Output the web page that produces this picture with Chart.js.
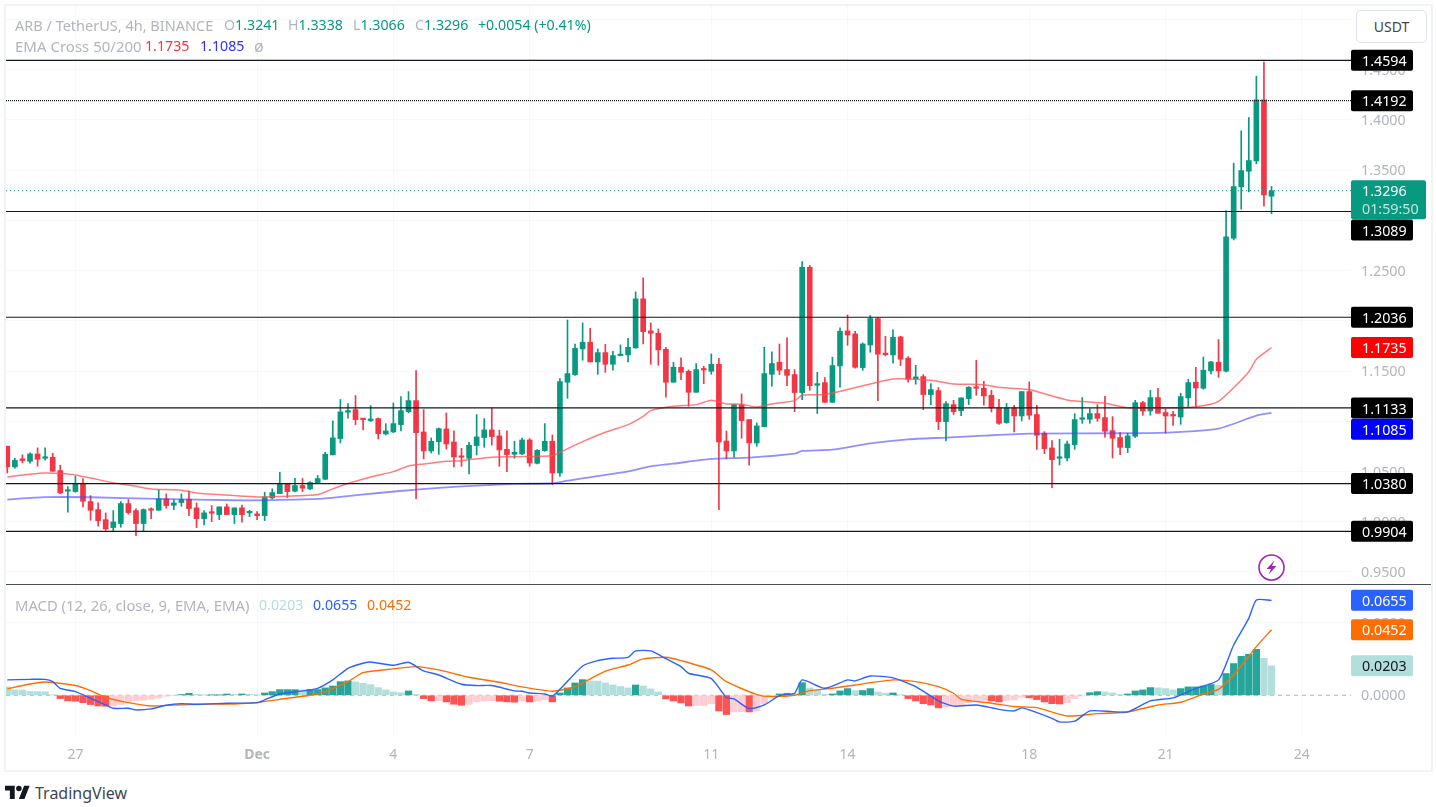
<!DOCTYPE html>
<html>
<head>
<meta charset="utf-8">
<title>ARB / TetherUS</title>
<script src="https://cdn.jsdelivr.net/npm/chart.js@4/dist/chart.umd.js"></script>
<style>
  html, body { margin: 0; padding: 0; background: #fff; width: 1436px; height: 807px; overflow: hidden; }
  body { font-family: "Noto Sans", sans-serif; position: relative; }
  canvas { position: absolute; }
  #frame { position: absolute; left: 4px; top: 4px; width: 1425px; height: 764px; border: 2px solid #f0f3fa; }
  #separator { position: absolute; left: 6px; top: 584px; width: 1425px; height: 1px; background: #4a4e58; }
  .t { position: absolute; font-size: 14.2px; line-height: 18px; white-space: nowrap; color: #b2b5be; }
  .up { color: #089981; }
  #usdt { position: absolute; left: 1356px; top: 10px; width: 69px; height: 31px; border: 1px solid #e0e3eb; border-radius: 5px;
          background: #fff; color: #434651; font-size: 14px; line-height: 31px; text-align: center; }
  #bolt { position: absolute; left: 1257px; top: 553px; }
  #logo { position: absolute; left: 5px; top: 785px; }
  #brand { position: absolute; left: 35px; top: 782px; font-size: 16px; line-height: 22px; color: #434651; }
</style>
</head>
<body>
<div id="frame"></div>
<canvas id="price-chart" width="1420" height="579" style="left:6px;top:5px"></canvas>
<canvas id="macd-chart" width="1420" height="185" style="left:6px;top:585px"></canvas>
<div id="separator"></div>

<div class="t" style="left:15px;top:16px;font-size:14.5px">ARB / TetherUS, 4h, BINANCE</div>
<div class="t" style="left:224px;top:16px">O<span class="up">1.3241</span></div>
<div class="t" style="left:288px;top:16px">H<span class="up">1.3338</span></div>
<div class="t" style="left:353px;top:16px">L<span class="up">1.3066</span></div>
<div class="t" style="left:415px;top:16px">C<span class="up">1.3296</span></div>
<div class="t up" style="left:478px;top:16px">+0.0054 (+0.41%)</div>
<div class="t" style="left:15px;top:37px;font-size:15px">EMA Cross 50/200</div>
<div class="t" style="left:145px;top:37px;color:#f23645">1.1735</div>
<div class="t" style="left:200px;top:37px;color:#3030ff">1.1085</div>
<div class="t" style="left:254px;top:37px;font-size:16px">ø</div>
<div class="t" style="left:15px;top:596px;font-size:14.8px">MACD (12, 26, close, 9, EMA, EMA)</div>
<div class="t" style="left:259px;top:596px;color:#b2dfdb">0.0203</div>
<div class="t" style="left:313px;top:596px;color:#2962ff">0.0655</div>
<div class="t" style="left:367px;top:596px;color:#ff6d00">0.0452</div>

<div id="usdt">USDT</div>
<svg id="bolt" width="29" height="29" viewBox="0 0 29 29">
  <circle cx="14.5" cy="14.5" r="12.5" fill="#fff" stroke="#9c27b0" stroke-width="1.6"/>
  <path d="M17.5 7.5 L9.5 16 H14 L11.5 21.5 L19.5 13 H15 Z" fill="#9c27b0"/>
</svg>
<svg id="logo" width="25" height="14" viewBox="0 0 36 20">
  <path d="M14 20H7V8H0V1h14v19zM28 20h-8l7.5-19h8L28 20z" fill="#131722"/>
  <circle cx="20" cy="5" r="4" fill="#131722"/>
</svg>
<div id="brand">TradingView</div>

<script>
const opens = [
  1.0752,1.0546,1.0626,1.0602,1.0675,1.0632,1.0642,1.0509,1.0304,1.0300,
  1.0380,1.0201,1.0121,1.0021,0.9942,0.9982,1.0181,1.0111,0.9982,1.0121,
  1.0114,1.0227,1.0164,1.0191,1.0224,1.0138,1.0031,1.0094,1.0071,1.0148,
  1.0071,1.0138,1.0088,1.0078,1.0061,1.0237,1.0280,1.0380,1.0304,1.0360,
  1.0327,1.0380,1.0423,1.0666,1.0828,1.1090,1.1116,1.1027,1.1007,1.1027,
  1.0874,1.0894,1.0967,1.1096,1.1206,1.0894,1.0705,1.0798,1.0924,1.0794,
  1.0655,1.0632,1.0758,1.0838,1.0914,1.0854,1.0721,1.0672,1.0675,1.0814,
  1.0582,1.0708,1.0801,1.0486,1.1389,1.1465,1.1721,1.1787,1.1591,1.1684,
  1.1568,1.1654,1.1661,1.1731,1.2219,1.1900,1.1877,1.1717,1.1389,1.1538,
  1.1498,1.1289,1.1518,1.1498,1.1568,1.0804,1.0705,1.1163,1.1017,1.0784,
  1.0947,1.1468,1.1588,1.1515,1.1465,1.1286,1.2534,1.1359,1.1385,1.1189,
  1.1551,1.1900,1.1870,1.1535,1.1760,1.2023,1.1677,1.1661,1.1840,1.1628,
  1.1422,1.1445,1.1266,1.1306,1.0997,1.1166,1.1106,1.1226,1.1339,1.1329,
  1.1259,1.1136,1.0987,1.1133,1.1053,1.1296,1.1067,1.0881,1.0735,1.0632,
  1.0635,1.0768,1.1020,1.1020,1.1077,1.1037,1.0907,1.0838,1.0738,1.0851,
  1.1186,1.1103,1.1236,1.1087,1.1060,1.1043,1.1233,1.1389,1.1329,1.1502,
  1.1588,1.1498,1.2823,1.3334,1.3490,1.3593,1.4201,1.3241
];
const highs = [
  1.0752,1.0632,1.0666,1.0685,1.0735,1.0735,1.0682,1.0563,1.0350,1.0453,
  1.0430,1.0260,1.0187,1.0088,1.0111,1.0201,1.0221,1.0128,1.0128,1.0138,
  1.0320,1.0277,1.0221,1.0277,1.0304,1.0187,1.0111,1.0161,1.0148,1.0177,
  1.0138,1.0167,1.0114,1.0101,1.0294,1.0327,1.0493,1.0380,1.0433,1.0430,
  1.0400,1.0460,1.0692,1.1004,1.1217,1.1176,1.1256,1.1027,1.1156,1.1033,
  1.0977,1.1183,1.1246,1.1296,1.1505,1.1116,1.0834,1.0934,1.1083,1.0904,
  1.0731,1.0791,1.1067,1.1027,1.1133,1.0911,1.0904,1.0801,1.0834,1.0828,
  1.0718,1.0977,1.0864,1.1425,1.2009,1.1770,1.1980,1.1926,1.1721,1.1767,
  1.1697,1.1760,1.1827,1.2288,1.2428,1.1980,1.1920,1.1737,1.1588,1.1631,
  1.1511,1.1575,1.1548,1.1671,1.1628,1.0904,1.1166,1.1272,1.1017,1.0984,
  1.1737,1.1691,1.1770,1.1830,1.1515,1.2590,1.2551,1.1488,1.1435,1.1638,
  1.1930,1.2059,1.1897,1.1780,1.2053,1.2036,1.1847,1.1910,1.1847,1.1644,
  1.1558,1.1465,1.1375,1.1336,1.1196,1.1209,1.1233,1.1345,1.1608,1.1399,
  1.1309,1.1219,1.1179,1.1160,1.1296,1.1392,1.1160,1.0897,1.0808,1.0821,
  1.0804,1.1077,1.1236,1.1126,1.1166,1.1249,1.1047,1.0887,1.0881,1.1209,
  1.1199,1.1309,1.1329,1.1126,1.1100,1.1279,1.1419,1.1538,1.1641,1.1598,
  1.1814,1.3095,1.3570,1.3892,1.4025,1.4436,1.4576,1.3338
];
const lows = [
  1.0486,1.0533,1.0586,1.0583,1.0553,1.0612,1.0503,1.0280,1.0094,1.0294,
  1.0148,1.0015,0.9955,0.9915,0.9909,0.9945,1.0075,0.9862,0.9909,1.0031,
  1.0114,1.0134,1.0121,1.0154,1.0061,0.9942,0.9968,1.0002,1.0021,1.0071,
  0.9982,0.9995,1.0051,1.0021,1.0011,1.0227,1.0280,1.0241,1.0297,1.0300,
  1.0320,1.0380,1.0420,1.0666,1.0785,1.1030,1.0967,1.0914,1.0997,1.0824,
  1.0864,1.0887,1.0904,1.1083,1.0230,1.0625,1.0685,1.0672,1.0725,1.0545,
  1.0552,1.0476,1.0665,1.0741,1.0764,1.0552,1.0499,1.0632,1.0668,1.0552,
  1.0575,1.0701,1.0369,1.0452,1.1229,1.1458,1.1608,1.1591,1.1468,1.1488,
  1.1508,1.1651,1.1591,1.1727,1.1770,1.1568,1.1558,1.1239,1.1389,1.1415,
  1.1150,1.1289,1.1375,1.1468,1.0120,1.0625,1.0642,1.0831,1.0562,1.0751,
  1.0947,1.1349,1.1465,1.1355,1.1096,1.1216,1.1309,1.1077,1.1189,1.1189,
  1.1339,1.1757,1.1528,1.1508,1.1687,1.1206,1.1651,1.1578,1.1555,1.1389,
  1.1369,1.1116,1.1166,1.0917,1.0804,1.1067,1.1057,1.1166,1.1259,1.1160,
  1.1093,1.0970,1.0980,1.0894,1.1004,1.1020,1.0721,1.0678,1.0340,1.0565,
  1.0605,1.0721,1.0980,1.0980,1.1000,1.0841,1.0635,1.0668,1.0688,1.0838,
  1.1060,1.1060,1.1080,1.0881,1.0960,1.0970,1.1136,1.1146,1.1319,1.1472,
  1.1438,1.1492,1.2806,1.3112,1.3284,1.3563,1.3142,1.3066
];
const closes = [
  1.0546,1.0612,1.0609,1.0675,1.0622,1.0646,1.0503,1.0287,1.0314,1.0380,
  1.0204,1.0114,1.0011,0.9928,0.9998,1.0181,1.0091,0.9982,1.0121,1.0114,
  1.0227,1.0161,1.0187,1.0221,1.0131,1.0031,1.0088,1.0085,1.0148,1.0071,
  1.0138,1.0071,1.0101,1.0061,1.0247,1.0290,1.0380,1.0300,1.0360,1.0334,
  1.0390,1.0430,1.0672,1.0835,1.1094,1.1106,1.1017,1.1017,1.1023,1.0877,
  1.0904,1.0977,1.1106,1.1206,1.0887,1.0705,1.0801,1.0927,1.0774,1.0645,
  1.0642,1.0761,1.0844,1.0914,1.0848,1.0715,1.0668,1.0691,1.0814,1.0585,
  1.0711,1.0801,1.0486,1.1395,1.1475,1.1727,1.1787,1.1591,1.1684,1.1568,
  1.1654,1.1668,1.1737,1.2219,1.1893,1.1877,1.1711,1.1389,1.1538,1.1488,
  1.1289,1.1515,1.1511,1.1568,1.0794,1.0705,1.1166,1.1007,1.0784,1.0954,
  1.1475,1.1575,1.1508,1.1458,1.1286,1.2534,1.1355,1.1375,1.1189,1.1555,
  1.1897,1.1860,1.1538,1.1770,1.2023,1.1668,1.1664,1.1837,1.1618,1.1419,
  1.1442,1.1266,1.1316,1.0997,1.1176,1.1096,1.1233,1.1339,1.1329,1.1253,
  1.1133,1.0980,1.1133,1.1053,1.1296,1.1060,1.0861,1.0728,1.0618,1.0645,
  1.0774,1.1017,1.1030,1.1077,1.1030,1.0901,1.0831,1.0741,1.0854,1.1186,
  1.1103,1.1236,1.1080,1.1053,1.1053,1.1246,1.1385,1.1332,1.1508,1.1591,
  1.1502,1.2836,1.3337,1.3497,1.3596,1.4201,1.3254,1.3296
];

const ema50At = [0,3,5,7,9,11,14,17,19,23,25,30,33,37,41,43,45,48,51,53,55,58,60,64,67,72,73,76,79,82,84,85,88,91,93,95,97,99,101,104,105,108,111,114,117,119,122,125,129,131,133,135,140,145,148,153,157,160,164,165,167];
const ema50 = [1.0446,1.0473,1.0486,1.0480,1.0466,1.0436,1.0387,1.0353,1.0327,1.0314,1.0287,1.0260,1.0247,1.0254,1.0270,1.0327,1.0380,1.0446,1.0499,1.0555,1.0575,1.0602,1.0608,1.0642,1.0648,1.0658,1.0691,1.0798,1.0891,1.0967,1.1050,1.1106,1.1150,1.1166,1.1209,1.1173,1.1170,1.1143,1.1173,1.1206,1.1259,1.1266,1.1316,1.1372,1.1422,1.1422,1.1409,1.1372,1.1365,1.1339,1.1326,1.1316,1.1213,1.1179,1.1136,1.1133,1.1146,1.1199,1.1492,1.1618,1.1735];
const ema200At = [0,5,11,20,30,34,41,44,49,54,60,67,72,74,82,85,88,93,98,104,105,109,114,119,124,129,135,148,153,160,165,167];
const ema200 = [1.0221,1.0244,1.0244,1.0227,1.0214,1.0214,1.0227,1.0247,1.0286,1.0320,1.0353,1.0376,1.0383,1.0409,1.0502,1.0552,1.0578,1.0625,1.0638,1.0678,1.0705,1.0718,1.0781,1.0821,1.0838,1.0857,1.0877,1.0881,1.0887,1.0927,1.1057,1.1085];

const macdAt = [0,3,5,6,7,9,11,13,14,16,17,19,21,23,25,29,33,34,36,39,41,43,45,47,48,51,53,55,57,60,62,64,67,68,69,71,72,73,76,78,80,82,83,85,87,89,90,93,95,96,98,100,102,104,105,108,111,112,114,117,120,123,125,128,131,133,134,135,138,139,141,143,146,148,151,154,157,160,162,164,165,167];
const macdLine = [0.0106,0.0110,0.0110,0.0094,0.0048,0.0025,-0.0021,-0.0067,-0.0090,-0.0090,-0.0101,-0.0094,-0.0069,-0.0058,-0.0062,-0.0055,-0.0051,-0.0032,0.0009,0.0030,0.0048,0.0106,0.0186,0.0221,0.0230,0.0207,0.0228,0.0168,0.0140,0.0076,0.0067,0.0067,0.0030,0.0028,0.0016,0.0009,-0.0005,0.0041,0.0202,0.0239,0.0255,0.0262,0.0306,0.0306,0.0253,0.0198,0.0152,0.0115,-0.0016,-0.0025,-0.0092,-0.0067,-0.0002,0.0014,0.0106,0.0048,0.0106,0.0099,0.0133,0.0120,0.0060,-0.0038,-0.0075,-0.0067,-0.0097,-0.0108,-0.0087,-0.0101,-0.0159,-0.0184,-0.0179,-0.0108,-0.0113,-0.0115,-0.0039,-0.0018,0.0048,0.0106,0.0347,0.0531,0.0658,0.0655];
const signalAt = [0,3,5,9,11,13,16,19,22,26,30,33,36,40,42,45,47,51,54,57,61,65,68,72,75,79,82,84,87,89,93,95,99,101,104,106,109,112,117,120,123,125,126,130,133,136,140,144,148,152,155,158,160,162,165,167];
const signalLine = [0.0044,0.0078,0.0092,0.0067,0.0032,-0.0014,-0.0051,-0.0074,-0.0067,-0.0062,-0.0060,-0.0051,-0.0028,0,0.0025,0.0094,0.0156,0.0182,0.0198,0.0175,0.0124,0.0090,0.0058,0.0028,0.0060,0.0166,0.0209,0.0251,0.0262,0.0239,0.0175,0.0094,0.0005,-0.0009,0,0.0032,0.0048,0.0071,0.0106,0.0094,0.0060,0.0014,-0.0028,-0.0055,-0.0078,-0.0085,-0.0143,-0.0127,-0.0115,-0.0067,-0.0048,0.0009,0.0041,0.0140,0.0336,0.0452];
const histogram = [
  0.0058,0.0037,0.0036,0.0026,0.0025,0.0024,0.0002,-0.0023,-0.0039,-0.0041,
  -0.0051,-0.0064,-0.0074,-0.0076,-0.0074,-0.0064,-0.0041,-0.0039,-0.0034,-0.0028,
  -0.0018,-0.0007,-0.0002,0.0005,0.0014,0.0007,0.0002,0.0002,0.0002,0.0009,
  0.0005,0.0009,0.0007,0.0002,0.0016,0.0025,0.0039,0.0039,0.0039,0.0037,
  0.0039,0.0039,0.0051,0.0064,0.0094,0.0099,0.0092,0.0083,0.0074,0.0053,
  0.0037,0.0023,0.0018,0.0030,0.0007,-0.0023,-0.0039,-0.0037,-0.0046,-0.0062,
  -0.0069,-0.0062,-0.0046,-0.0039,-0.0037,-0.0041,-0.0046,-0.0048,-0.0039,-0.0046,
  -0.0039,-0.0032,-0.0046,0.0016,0.0051,0.0085,0.0108,0.0099,0.0098,0.0085,
  0.0071,0.0060,0.0051,0.0071,0.0064,0.0044,0.0023,-0.0025,-0.0039,-0.0053,
  -0.0074,-0.0071,-0.0070,-0.0058,-0.0108,-0.0133,-0.0115,-0.0113,-0.0115,-0.0106,
  -0.0058,-0.0012,0.0009,0.0014,0.0012,0.0087,0.0051,0.0035,0.0005,0.0009,
  0.0030,0.0046,0.0032,0.0033,0.0046,0.0023,0.0014,0.0016,0.0002,-0.0023,
  -0.0039,-0.0058,-0.0067,-0.0087,-0.0081,-0.0078,-0.0069,-0.0051,-0.0041,-0.0035,
  -0.0039,-0.0046,-0.0035,-0.0032,-0.0014,-0.0018,-0.0030,-0.0046,-0.0058,-0.0060,
  -0.0051,-0.0023,-0.0005,0.0018,0.0025,0.0023,0.0016,0.0005,0.0009,0.0030,
  0.0037,0.0053,0.0051,0.0046,0.0037,0.0046,0.0058,0.0058,0.0064,0.0074,
  0.0069,0.0150,0.0219,0.0269,0.0283,0.0317,0.0255,0.0203
];

const levelPrices = [1.4594, 1.4192, 1.3089, 1.2036, 1.1133, 1.0380, 0.9904];
const lastPrice = 1.3296;
const countdown = "01:59:50";
const priceTicks = [0.95, 1.0, 1.05, 1.1, 1.15, 1.2, 1.25, 1.3, 1.35, 1.4, 1.45, 1.5];
const macdTicks = [0, 0.05];
const dateTickAt = [9, 33, 51, 69, 93, 111, 135, 153, 171];
const dateTicks = ["27", "Dec", "4", "7", "11", "14", "18", "21", "24"];

const UP = "#089981", DOWN = "#f23645";
const FONT = '"Noto Sans", sans-serif';
const xMin = -0.17, xMax = 177.5;

function points(at, values) {
  return at.map((x, i) => ({ x: x, y: values[i] }));
}

function flatLine(value, color, width, dash, order) {
  return {
    type: "line",
    data: [{ x: xMin, y: value }, { x: xMax, y: value }],
    borderColor: color, borderWidth: width, borderDash: dash,
    pointRadius: 0, order: order
  };
}

function curve(at, values, color, width, order) {
  return {
    type: "line",
    data: points(at, values),
    borderColor: color, borderWidth: width,
    pointRadius: 0, tension: 0.2, order: order
  };
}

function xScale(showLabels) {
  return {
    type: "linear", min: xMin, max: xMax, offset: false,
    afterBuildTicks: (s) => { s.ticks = dateTickAt.map((v) => ({ value: v })); },
    afterFit: (s) => { s.height = showLabels ? 33 : 0; s.paddingLeft = 0; s.paddingRight = 0; },
    grid: { color: "rgba(240,243,250,0.55)", drawTicks: false, offset: false },
    border: { display: false },
    ticks: {
      display: showLabels, autoSkip: false, maxRotation: 0, padding: 10, color: "#b2b5be",
      font: (ctx) => ({ family: FONT, size: 14, weight: ctx.tick && ctx.tick.label === "Dec" ? "bold" : "normal" }),
      callback: (v) => dateTicks[dateTickAt.indexOf(v)]
    }
  };
}

function yScale(min, max, ticks) {
  return {
    position: "right", min: min, max: max,
    afterBuildTicks: (s) => { s.ticks = ticks.map((v) => ({ value: v })); },
    // no room kept for half a label above and below, the panes touch
    afterFit: (s) => { s.width = 75; s.paddingTop = 0; s.paddingBottom = 0; },
    grid: { color: "rgba(240,243,250,0.55)", drawTicks: false },
    border: { display: false },
    ticks: { padding: 10, labelOffset: 1, color: "#b2b5be", font: { family: FONT, size: 14.3 }, callback: (v) => v.toFixed(4) }
  };
}

// price labels on the axis, drawn above the tick labels
function tagPlugin(tags) {
  return {
    id: "tags",
    afterDraw(chart) {
      const ctx = chart.ctx, left = chart.chartArea.right;
      ctx.save();
      ctx.font = "14.3px " + FONT;
      ctx.textBaseline = "middle";
      ctx.textAlign = "left";
      tags.forEach((tag) => {
        const y = chart.scales.y.getPixelForValue(tag.value) + (tag.shift || 0);
        const w = tag.extra ? 75 : 62, h = tag.extra ? 39 : 21;
        ctx.fillStyle = tag.color;
        ctx.beginPath();
        ctx.roundRect(left, y - 10.5, w, h, 2);
        ctx.fill();
        ctx.fillStyle = tag.text || "#fff";
        ctx.fillText(tag.value.toFixed(4), left + 11, y + 1.5);
        if (tag.extra) {
          ctx.fillStyle = "rgba(255,255,255,0.75)";
          ctx.fillText(tag.extra, left + 11, y + 19);
        }
      });
      ctx.restore();
    }
  };
}

const candleColors = opens.map((o, i) => (closes[i] >= o ? UP : DOWN));

new Chart(document.getElementById("price-chart"), {
  type: "bar",
  data: {
    datasets: [
      ...levelPrices.map((v) => flatLine(v, "#131722", 1.2, v === 1.4192 ? [1, 1] : [], 0)),
      flatLine(lastPrice, UP, 1, [1, 3], 1),
      curve(ema50At, ema50, "rgba(255,82,82,0.75)", 1.5, 2),
      curve(ema200At, ema200, "rgba(70,70,255,0.6)", 1.8, 2),
      {
        data: opens.map((o, i) => ({ x: i, y: [lows[i], highs[i]] })),
        backgroundColor: candleColors, grouped: false, maxBarThickness: 1,
        barPercentage: 1, categoryPercentage: 1, order: 4
      },
      {
        data: opens.map((o, i) => ({ x: i, y: [o, closes[i]] })),
        backgroundColor: candleColors, grouped: false, maxBarThickness: 5, minBarLength: 1.5,
        barPercentage: 1, categoryPercentage: 1, order: 3
      }
    ]
  },
  options: {
    responsive: false, animation: false,
    layout: { padding: 0 },
    plugins: { legend: { display: false }, tooltip: { enabled: false } },
    scales: { x: xScale(false), y: yScale(0.938, 1.5145, priceTicks) }
  },
  plugins: [tagPlugin([
    { value: 1.4594, color: "#000" },
    { value: 1.4192, color: "#000" },
    { value: 1.3089, color: "#000", shift: 18.5 },
    { value: lastPrice, color: UP, extra: countdown },
    { value: 1.2036, color: "#000" },
    { value: 1.1735, color: "#ff0000" },
    { value: 1.1133, color: "#000" },
    { value: 1.1085, color: "#0000ff", shift: 16.5 },
    { value: 1.0380, color: "#000" },
    { value: 0.9904, color: "#000" }
  ])]
});

const histColors = histogram.map((v, i) => {
  const prev = i ? histogram[i - 1] : Infinity;
  if (v >= 0) return v >= prev ? "#26a69a" : "#b2dfdb";
  return v <= prev ? "#ff5252" : "#ffcdd2";
});

new Chart(document.getElementById("macd-chart"), {
  type: "bar",
  data: {
    datasets: [
      curve(macdAt, macdLine, "#2962ff", 1.4, 0),
      curve(signalAt, signalLine, "#ff6d00", 1.4, 0),
      {
        data: histogram.map((v, i) => ({ x: i, y: v })),
        backgroundColor: histColors, grouped: false, maxBarThickness: 6.6,
        barPercentage: 1, categoryPercentage: 1, order: 1
      },
      flatLine(0, "#b2b5be", 1, [4, 4], 2)
    ]
  },
  options: {
    responsive: false, animation: false,
    layout: { padding: 0 },
    plugins: { legend: { display: false }, tooltip: { enabled: false } },
    scales: { x: xScale(true), y: yScale(-0.0288, 0.0761, macdTicks) }
  },
  plugins: [tagPlugin([
    { value: 0.0655, color: "#2962ff" },
    { value: 0.0452, color: "#ff6d00" },
    { value: 0.0203, color: "#b2dfdb", text: "#131722" }
  ])]
});
</script>
</body>
</html>
